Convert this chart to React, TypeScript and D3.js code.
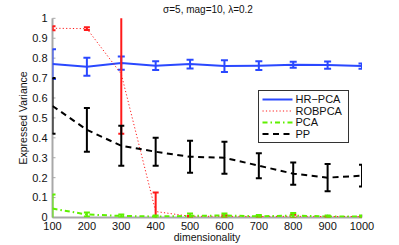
import * as d3 from 'd3';

const dims = [100, 200, 300, 400, 500, 600, 700, 800, 900, 1000];

const hrpcaMean = [0.77, 0.757, 0.775, 0.762, 0.77, 0.76, 0.762, 0.767, 0.765, 0.76];
const hrpcaErr = [0.075, 0.045, 0.033, 0.022, 0.022, 0.03, 0.022, 0.015, 0.018, 0.013];

const robpcaMean = [0.95, 0.948, 0.72, 0.03, 0.006, 0.006, 0.005, 0.006, 0.005, 0.005];
const robpcaErr = [0.01, 0.007, 0.3, 0.095, 0.003, 0.005, 0.003, 0.008, 0.003, 0.003];

const pcaMean = [0.045, 0.015, 0.008, 0.005, 0.008, 0.01, 0.006, 0.01, 0.005, 0.005];
const pcaErr = [0.07, 0.01, 0.007, 0.005, 0.012, 0.01, 0.006, 0.012, 0.005, 0.005];

const ppMean = [0.56, 0.44, 0.36, 0.33, 0.305, 0.3, 0.26, 0.22, 0.2, 0.21];
const ppErr = [0.14, 0.11, 0.1, 0.07, 0.08, 0.08, 0.063, 0.056, 0.068, 0.055];

const yTicks = [0, 0.1, 0.2, 0.3, 0.4, 0.5, 0.6, 0.7, 0.8, 0.9, 1];
const seriesNames = ['HR\u2212PCA', 'ROBPCA', 'PCA', 'PP'];

const W = 399;
const H = 245;
const FONT = '"Liberation Sans", Arial, Helvetica, sans-serif';

const x = d3.scaleLinear().domain([100, 1000]).range([52.5, 362]);
const y = d3.scaleLinear().domain([0, 1]).range([217.5, 18.3]);

const series = [
  { name: seriesNames[0], mean: hrpcaMean, err: hrpcaErr, color: '#2a48ff', width: 2, dash: '', barW: 2, cap: 3.5 },
  { name: seriesNames[1], mean: robpcaMean, err: robpcaErr, color: '#ff1a1a', width: 1, dash: '1.2,2.2', barW: 2, cap: 3 },
  { name: seriesNames[2], mean: pcaMean, err: pcaErr, color: '#5ef000', width: 2, dash: '5,3,1.5,3', barW: 2, cap: 3 },
  { name: seriesNames[3], mean: ppMean, err: ppErr, color: '#000000', width: 2, dash: '6,4.5', barW: 2, cap: 3 },
];

export default function App() {
  const line = d3
    .line<number>()
    .x((_, i) => x(dims[i]))
    .y((d) => y(d));

  const [x0, x1] = x.range();
  const [y0, y1] = y.range();

  return (
    <svg
      width={W}
      height={H}
      style={{ position: 'absolute', left: 0, top: 0, background: '#fff' }}
      fontFamily={FONT}
    >
      <defs>
        <clipPath id="plot">
          <rect x={x0} y={y1} width={x1 - x0} height={y0 - y1} />
        </clipPath>
      </defs>

      {/* axes */}
      <line x1={x0} x2={x0} y1={y1} y2={y0} stroke="#a8a8a8" strokeWidth={2} />
      <line x1={x0} x2={x1} y1={y0} y2={y0} stroke="#a8a8a8" strokeWidth={2} />
      {yTicks.map((t) => (
        <g key={'y' + t}>
          <line x1={x0} x2={x0 + 3} y1={y(t)} y2={y(t)} stroke="#a8a8a8" />
          <text x={x0 - 5} y={y(t)} dy="0.35em" textAnchor="end" fontSize={11} fill="#111">
            {t}
          </text>
        </g>
      ))}
      {dims.map((d) => (
        <g key={'x' + d}>
          <line x1={x(d)} x2={x(d)} y1={y0} y2={y0 - 3} stroke="#a8a8a8" />
          <text x={x(d)} y={y0 + 12} textAnchor="middle" fontSize={11} fill="#111">
            {d}
          </text>
        </g>
      ))}

      {/* series */}
      <g clipPath="url(#plot)">
        {series.map((s) => (
          <g key={s.name}>
            {s.mean.map((m, i) => {
              const cx = x(dims[i]);
              const top = y(m + s.err[i]);
              const bot = y(m - s.err[i]);
              return (
                <g key={i} stroke={s.color} strokeWidth={s.barW}>
                  <line x1={cx} x2={cx} y1={top} y2={bot} />
                  <line x1={cx - s.cap} x2={cx + s.cap} y1={top} y2={top} />
                  <line x1={cx - s.cap} x2={cx + s.cap} y1={bot} y2={bot} />
                </g>
              );
            })}
            <path
              d={line(s.mean) ?? ''}
              fill="none"
              stroke={s.color}
              strokeWidth={s.width}
              strokeDasharray={s.dash || undefined}
            />
          </g>
        ))}
      </g>

      {/* labels */}
      <text x={208} y={13} textAnchor="middle" fontSize={10} fill="#111">
        {'\u03c3=5, mag=10, \u03bb=0.2'}
      </text>
      <text x={207} y={241} textAnchor="middle" fontSize={10.5} fill="#111">
        dimensionality
      </text>
      <text
        transform={`translate(27,${(y0 + y1) / 2}) rotate(-90)`}
        textAnchor="middle"
        fontSize={10.5}
        fill="#111"
      >
        Expressed Variance
      </text>

      {/* legend */}
      <g transform="translate(258.5,90.5)">
        <rect width={90} height={52} fill="#fff" stroke="#333" strokeWidth={1} />
        {series.map((s, i) => (
          <g key={s.name} transform={`translate(0,${9 + i * 11.5})`}>
            <line
              x1={4}
              x2={34}
              y1={0}
              y2={0}
              stroke={s.color}
              strokeWidth={s.width}
              strokeDasharray={s.dash || undefined}
            />
            <text x={37} y={0} dy="0.35em" fontSize={11} fill="#111">
              {s.name}
            </text>
          </g>
        ))}
      </g>
    </svg>
  );
}
